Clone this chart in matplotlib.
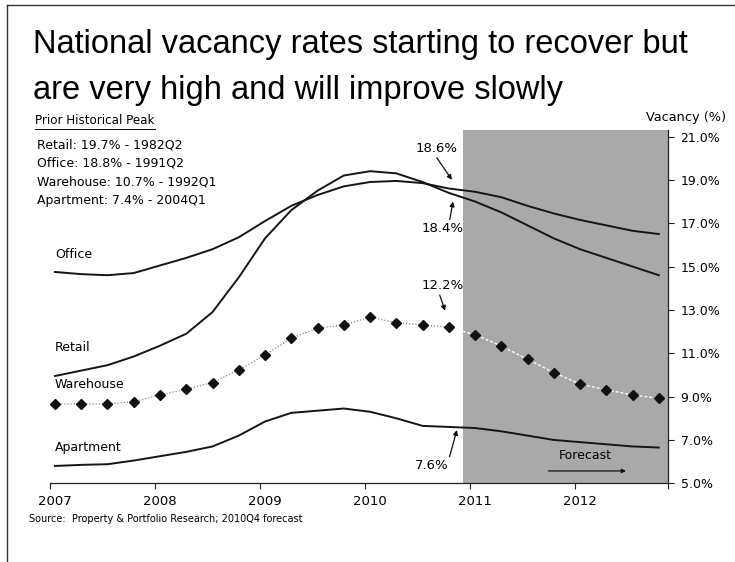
import matplotlib
matplotlib.use('Agg')
import matplotlib.pyplot as plt
from matplotlib.lines import Line2D
from matplotlib.ticker import FixedLocator, NullFormatter

# Quarterly index: 0 = 2007Q1 ... 23 = 2012Q4
quarters = list(range(24))
year_labels = ['2007', '2008', '2009', '2010', '2011', '2012']
year_quarter_index = [0, 4, 8, 12, 16, 20]

office = [14.75, 14.65, 14.6, 14.7, 15.05, 15.4, 15.8, 16.35, 17.1, 17.8, 18.3, 18.7,
          18.9, 18.95, 18.85, 18.6, 18.45, 18.2, 17.8, 17.45, 17.15, 16.9, 16.65, 16.5]
retail = [9.95, 10.2, 10.45, 10.85, 11.35, 11.9, 12.9, 14.5, 16.3, 17.6, 18.5, 19.2,
          19.4, 19.3, 18.9, 18.4, 18.0, 17.5, 16.9, 16.3, 15.8, 15.4, 15.0, 14.6]
warehouse = [8.66, 8.66, 8.66, 8.77, 9.08, 9.34, 9.65, 10.23, 10.92, 11.69, 12.16, 12.31,
             12.66, 12.41, 12.31, 12.2, 11.85, 11.34, 10.72, 10.11, 9.58, 9.31, 9.08, 8.92]
apartment = [5.8, 5.85, 5.88, 6.05, 6.25, 6.45, 6.7, 7.2, 7.85, 8.25, 8.35, 8.45,
             8.3, 8.0, 7.65, 7.6, 7.55, 7.4, 7.2, 7.0, 6.9, 6.8, 6.7, 6.65]
ytick_values = [5, 7, 9, 11, 13, 15, 17, 19, 21]
last_actual = 15  # 2010Q4
forecast_start = 15.55

peaks = ['Retail: 19.7% - 1982Q2', 'Office: 18.8% - 1991Q2',
         'Warehouse: 10.7% - 1992Q1', 'Apartment: 7.4% - 2004Q1']

W, H = 735, 562
fig = plt.figure(figsize=(W / 100, H / 100), dpi=100)
fig.patch.set_facecolor('white')

ax = fig.add_axes([50 / W, 1 - 483.3 / H, (668 - 50) / W, (483.3 - 130) / H])
ax.set_xlim(-0.19, 23.35)
ax.set_ylim(5, 21.3)

# forecast shading
ax.axvspan(forecast_start, 23.35, color='#a9a9a9', lw=0, zorder=0)

lc = '#151515'
ax.plot(quarters, office, color=lc, lw=1.4, zorder=3)
ax.plot(quarters, retail, color=lc, lw=1.4, zorder=3)
ax.plot(quarters, apartment, color=lc, lw=1.4, zorder=3)
ax.plot(quarters[:last_actual + 1], warehouse[:last_actual + 1], color='#8a8a8a',
        lw=0.9, ls=(0, (1, 1.5)), zorder=2)
ax.plot(quarters[last_actual:], warehouse[last_actual:], color='white',
        lw=1.0, ls=(0, (2, 1.5)), zorder=2)
ax.plot(quarters, warehouse, ls='none', marker='D', ms=5.5, color='#111111', zorder=4)

# spines and ticks
for s in ['left', 'top']:
    ax.spines[s].set_visible(False)
for s in ['right', 'bottom']:
    ax.spines[s].set_color('#222222')
    ax.spines[s].set_linewidth(0.9)
ax.yaxis.tick_right()
ax.set_yticks(ytick_values)
ax.set_yticklabels([f'{v:.1f}%' for v in ytick_values], fontsize=9, family='DejaVu Sans')
ax.tick_params(axis='y', direction='out', length=4, width=0.8, pad=5, colors='#222222',
               labelcolor='black')

ax.xaxis.set_major_locator(FixedLocator([q - 0.19 for q in year_quarter_index] + [23.35]))
ax.xaxis.set_major_formatter(NullFormatter())
ax.xaxis.set_minor_locator(FixedLocator(year_quarter_index))
ax.set_xticklabels(year_labels, minor=True, fontsize=9.5, family='DejaVu Sans')
ax.tick_params(axis='x', which='major', direction='out', length=4, width=0.8, colors='#222222')
ax.tick_params(axis='x', which='minor', length=0, pad=8.5)

# series labels
for lab, yv in [('Office', 15.54), ('Retail', 11.25), ('Warehouse', 9.54), ('Apartment', 6.66)]:
    ax.text(0, yv, lab, fontsize=9, va='center', ha='left', family='DejaVu Sans')

# annotations
ap = dict(arrowstyle='-|>', color='#111111', lw=0.9, mutation_scale=7, shrinkA=0, shrinkB=0)
ax.annotate('18.6%', xy=(15.12, 19.0), xytext=(14.55, 20.45), fontsize=9.5,
            ha='center', va='center', arrowprops=dict(ap, relpos=(0.45, 0.0)))
ax.annotate('18.4%', xy=(15.16, 18.0), xytext=(14.78, 16.74), fontsize=9.5,
            ha='center', va='center', arrowprops=dict(ap, relpos=(0.65, 1.0)))
ax.annotate('12.2%', xy=(14.86, 12.96), xytext=(14.78, 14.11), fontsize=9.5,
            ha='center', va='center', arrowprops=dict(ap, relpos=(0.4, 0.0)))
ax.annotate('7.6%', xy=(15.31, 7.46), xytext=(14.36, 5.8), fontsize=9.5,
            ha='center', va='center', arrowprops=dict(ap, relpos=(1.0, 1.0)))
ax.text(20.2, 6.28, 'Forecast', fontsize=9, ha='center', va='center')
ax.annotate('', xy=(21.75, 5.57), xytext=(18.8, 5.57),
            arrowprops=dict(arrowstyle='-|>', color='#111111', lw=0.9, mutation_scale=6,
                            shrinkA=0, shrinkB=0))

# title
fig.text(33 / W, 1 - 45 / H, 'National vacancy rates starting to recover but',
         fontsize=23.5, family='Liberation Sans', va='center', ha='left')
fig.text(33 / W, 1 - 91 / H, 'are very high and will improve slowly',
         fontsize=23.5, family='Liberation Sans', va='center', ha='left')

# prior historical peak block
t = fig.text(35 / W, 1 - 121 / H, 'Prior Historical Peak', fontsize=8.6,
             family='DejaVu Sans', va='center', ha='left')
fig.canvas.draw()
bb = t.get_window_extent()
fig.add_artist(Line2D([bb.x0 / W, bb.x1 / W], [(bb.y0 - 1) / H, (bb.y0 - 1) / H],
                      transform=fig.transFigure, color='black', lw=0.7))
for k, p in enumerate(peaks):
    fig.text(37 / W, 1 - (145 + 18.5 * k) / H, p, fontsize=9, family='DejaVu Sans',
             va='center', ha='left')

fig.text(726 / W, 1 - 118 / H, 'Vacancy (%)', fontsize=9.3, family='DejaVu Sans',
         va='center', ha='right')

fig.text(29 / W, 1 - 519 / H, 'Source:  Property & Portfolio Research; 2010Q4 forecast',
         fontsize=7, family='DejaVu Sans', va='center', ha='left')

# slide border
fig.add_artist(Line2D([7 / W, 7 / W], [0, 1 - 5 / H], transform=fig.transFigure,
                      color='#333333', lw=1.0))
fig.add_artist(Line2D([7 / W, 1], [1 - 5 / H, 1 - 5 / H], transform=fig.transFigure,
                      color='#333333', lw=1.0))

fig.savefig('out.png', dpi=100, facecolor='white')
